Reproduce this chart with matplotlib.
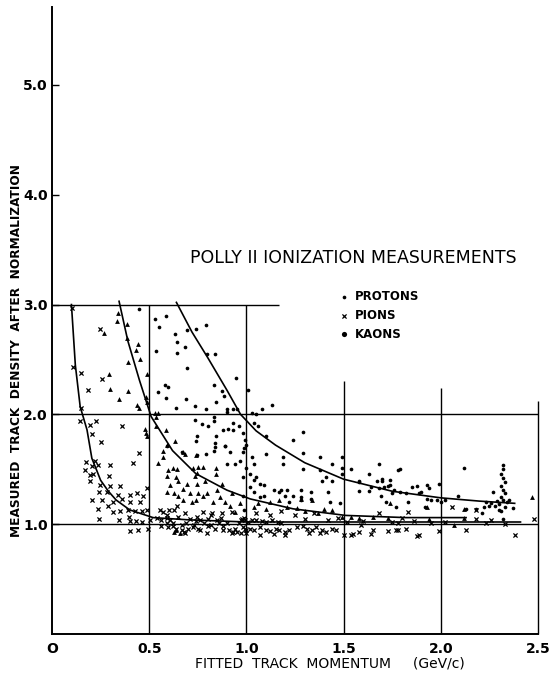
import matplotlib
matplotlib.use("Agg")
import matplotlib.pyplot as plt

# ---- data (momentum GeV/c, normalized track density) ----
proton_x = [0.449, 0.530, 0.586, 0.552, 0.535, 0.633, 0.641, 0.641, 0.684, 0.693, 0.741, 0.792,
            0.796, 0.838, 0.693, 0.581, 0.599, 0.547, 0.586, 0.689, 0.736, 0.638, 0.791, 0.833,
            0.873, 0.886, 0.945, 0.899, 0.930, 0.950, 0.842, 0.835, 0.736, 0.773, 0.804, 0.833,
            0.844, 0.881, 0.907, 0.933, 0.963, 0.930, 0.899, 0.984, 0.993, 1.00, 0.838, 0.890,
            0.984, 1.03, 1.05, 1.08, 1.13, 1.04, 1.06, 1.10, 1.01, 0.744, 0.741, 0.792, 0.835,
            0.590, 0.667, 0.744, 0.838, 0.890, 0.916, 0.899, 0.941, 0.988, 0.984, 0.981, 0.989,
            1.19, 1.19, 1.24, 1.29, 1.29, 1.29, 1.38, 1.38, 1.41, 1.44, 1.44, 1.49, 1.49, 1.49,
            1.54, 1.58, 1.63, 1.68, 1.70, 1.74, 1.74, 1.79, 1.71, 1.76, 1.79, 1.58, 1.63, 1.68,
            1.88, 1.93, 1.94, 1.99, 1.89, 1.93, 1.95, 2.00, 2.02, 1.83, 2.09, 2.12, 2.13, 2.18,
            2.23, 2.27, 2.26, 2.30, 2.37, 0.967, 1.05, 1.07, 1.02, 1.00, 1.10, 1.14, 1.17, 1.21,
            1.28, 1.28, 1.28, 1.33, 1.07, 1.09, 1.39, 1.42, 1.78, 1.67, 1.70, 1.73, 1.58, 1.64,
            1.69, 1.75, 1.85, 1.90, 1.82, 1.98, 1.77, 1.72, 1.92, 1.03, 1.04, 1.02, 1.04, 1.04,
            1.09, 1.18, 1.20, 1.24, 1.33, 1.43, 1.48, 1.22,
            2.32, 2.32, 2.31, 2.32, 2.33, 2.31, 2.32, 2.33, 2.31, 2.32, 2.34, 2.30, 2.33, 2.31,
            2.32, 2.35, 2.29, 2.28, 2.25, 2.22, 2.21]
proton_y = [2.96, 2.87, 2.90, 2.80, 2.58, 2.73, 2.66, 2.56, 2.61, 2.77, 2.78, 2.81,
            2.55, 2.55, 2.42, 2.27, 2.25, 2.20, 2.15, 2.14, 2.08, 2.06, 2.05, 2.27,
            2.21, 2.17, 2.33, 2.05, 2.05, 2.05, 2.11, 1.98, 1.95, 1.91, 1.89, 1.94,
            1.80, 1.86, 1.87, 1.86, 1.89, 1.92, 2.02, 1.83, 1.77, 1.72, 1.74, 1.71,
            1.66, 2.01, 2.00, 2.05, 2.09, 1.92, 1.89, 1.80, 2.22, 1.80, 1.76, 1.64, 1.67,
            1.71, 1.66, 1.63, 1.70, 1.71, 1.66, 1.55, 1.55, 1.69, 1.43, 1.26, 1.13,
            1.61, 1.55, 1.77, 1.84, 1.65, 1.50, 1.61, 1.49, 1.43, 1.55, 1.39, 1.61, 1.51, 1.46,
            1.50, 1.38, 1.46, 1.55, 1.41, 1.40, 1.36, 1.50, 1.34, 1.31, 1.29, 1.30, 1.30, 1.33,
            1.35, 1.36, 1.33, 1.37, 1.28, 1.23, 1.22, 1.20, 1.22, 1.20, 1.26, 1.51, 1.14, 1.14,
            1.20, 1.29, 1.19, 1.13, 1.15, 1.58, 1.43, 1.37, 1.34, 1.51, 1.64, 1.31, 1.29, 1.31,
            1.31, 1.25, 1.22, 1.29, 1.25, 1.26, 1.39, 1.29, 1.49, 1.39, 1.39, 1.35, 1.39, 1.34,
            1.26, 1.28, 1.34, 1.29, 1.28, 1.22, 1.16, 1.20, 1.16, 1.61, 1.55, 1.46, 1.40, 1.29,
            1.36, 1.31, 1.26, 1.26, 1.23, 1.20, 1.19, 1.20,
            1.54, 1.50, 1.46, 1.42, 1.38, 1.35, 1.31, 1.28, 1.25, 1.22, 1.20, 1.18, 1.16, 1.12,
            1.05, 1.22, 1.21, 1.17, 1.17, 1.16, 1.10]

kaon_x = [0.338, 0.333, 0.387, 0.387, 0.267, 0.444, 0.432, 0.453, 0.392, 0.295, 0.298, 0.392,
          0.345, 0.487, 0.484, 0.487, 0.436, 0.449, 0.530, 0.547, 0.535, 0.478, 0.490, 0.484,
          0.586, 0.535, 0.593, 0.633, 0.569, 0.569, 0.672, 0.741,
          0.547, 0.599, 0.620, 0.641, 0.590, 0.638, 0.650, 0.607, 0.593, 0.628, 0.650, 0.675,
          0.696, 0.710, 0.675, 0.719, 0.741, 0.753, 0.744, 0.736, 0.727, 0.753, 0.775, 0.744,
          0.787, 0.799, 0.778, 0.844, 0.844, 0.873, 0.847, 0.864, 0.890, 0.830, 0.924, 0.967,
          0.941, 0.916, 0.684,
          1.04, 1.12, 1.17, 1.28, 1.34, 1.40, 1.44, 1.49, 1.54, 1.58, 1.65, 1.73, 1.74, 1.94,
          1.93, 2.07, 2.12, 2.12, 2.47, 1.37, 1.30, 1.26, 1.21, 1.10, 1.06, 0.63, 0.66, 0.64]
kaon_y = [2.92, 2.85, 2.82, 2.70, 2.74, 2.64, 2.59, 2.50, 2.48, 2.37, 2.23, 2.21,
          2.14, 2.37, 2.16, 2.11, 2.09, 2.06, 2.01, 2.01, 1.98, 1.87, 1.80, 1.83,
          1.86, 1.89, 1.72, 1.76, 1.67, 1.61, 1.66, 1.63,
          1.56, 1.49, 1.51, 1.50, 1.44, 1.43, 1.39, 1.36, 1.29, 1.28, 1.26, 1.32,
          1.37, 1.28, 1.22, 1.20, 1.22, 1.28, 1.37, 1.44, 1.51, 1.52, 1.52, 1.47,
          1.39, 1.28, 1.26, 1.51, 1.46, 1.37, 1.31, 1.25, 1.20, 1.20, 1.28, 1.19,
          1.11, 1.17, 1.64,
          1.16, 1.20, 1.22, 1.23, 1.22, 1.14, 1.13, 1.07, 1.07, 1.06, 1.07, 1.06, 1.19, 1.05,
          1.16, 0.99, 1.06, 1.14, 1.25, 1.10, 1.12, 1.15, 1.16, 1.14, 1.19, 0.93, 0.92, 0.95]

pion_x = [0.101, 0.110, 0.149, 0.247, 0.256, 0.187, 0.148, 0.144, 0.195, 0.226, 0.204, 0.250,
          0.358, 0.448, 0.175, 0.170, 0.195, 0.204, 0.221, 0.204, 0.243, 0.238, 0.243,
          0.418, 0.212, 0.238, 0.298, 0.295, 0.195, 0.247, 0.298, 0.350, 0.281, 0.341, 0.401,
          0.439, 0.470, 0.490, 0.256, 0.315, 0.358, 0.401, 0.453, 0.290, 0.312, 0.350, 0.393,
          0.427, 0.461, 0.487, 0.346, 0.398, 0.401, 0.432, 0.461, 0.504, 0.401, 0.444, 0.492,
          0.556, 0.573, 0.602, 0.628, 0.641, 0.593, 0.607, 0.650, 0.684, 0.710, 0.744, 0.778,
          0.821, 0.873, 0.924, 0.599, 0.684, 0.727, 0.761, 0.796, 0.838, 0.881, 0.924, 0.950,
          0.993,
          0.54, 0.56, 0.59, 0.62, 0.64, 0.67, 0.68, 0.70, 0.73, 0.75, 0.78, 0.80, 0.82, 0.86,
          0.88, 0.91, 0.93, 0.96, 0.97, 0.99, 1.00, 0.97, 0.94, 0.90, 0.87, 0.85, 0.82, 0.80,
          0.76, 0.74, 0.69, 0.67, 0.62, 0.59, 0.56,
          0.976, 0.993, 1.01, 1.03, 1.05, 1.08, 1.10, 1.13, 1.16, 1.18, 0.984, 1.02, 1.04, 1.07,
          1.10, 1.12, 1.15, 1.17, 1.20, 1.22, 1.26, 1.29, 1.31, 1.34, 1.36, 1.39, 1.41, 1.44,
          1.46, 1.00, 1.07, 1.14, 1.20, 1.32, 1.38, 1.50, 1.54, 1.58, 1.64, 1.73, 1.78, 1.89,
          1.65, 1.77, 1.82, 1.88, 1.99, 2.13, 2.23, 2.33, 2.18, 1.55, 1.59, 1.78, 1.83, 2.06,
          2.18, 2.26, 2.38, 2.48,
          1.05, 1.12, 1.18, 1.25, 1.30, 1.35, 1.42, 1.47, 1.52, 1.60, 1.68, 1.75, 1.80, 1.86,
          1.95, 2.02]
pion_y = [2.97, 2.43, 2.38, 2.78, 2.32, 2.22, 2.06, 1.94, 1.90, 1.94, 1.82, 1.75,
          1.89, 1.65, 1.57, 1.49, 1.45, 1.53, 1.58, 1.22, 1.29, 1.14, 1.05,
          1.56, 1.46, 1.54, 1.54, 1.44, 1.39, 1.36, 1.35, 1.35, 1.29, 1.27, 1.27,
          1.28, 1.26, 1.33, 1.22, 1.20, 1.23, 1.20, 1.20, 1.17, 1.11, 1.12, 1.13,
          1.12, 1.12, 1.13, 1.04, 1.07, 1.03, 1.03, 1.02, 1.04, 0.94, 0.95, 0.96,
          1.13, 1.11, 1.13, 1.13, 1.17, 1.08, 1.04, 1.07, 1.10, 1.05, 1.07, 1.11,
          1.10, 1.10, 1.11, 0.97, 0.92, 0.97, 0.95, 0.92, 0.96, 0.95, 0.92, 0.93,
          0.96,
          1.06, 1.04, 1.06, 1.01, 0.96, 0.95, 0.93, 0.96, 0.99, 0.96, 1.01, 0.98, 0.99, 1.01,
          0.98, 0.95, 0.93, 1.01, 1.04, 1.06, 0.95, 0.92, 0.96, 1.01, 1.06, 1.04, 1.08, 1.05,
          1.04, 1.03, 1.01, 0.99, 0.98, 1.01, 0.98,
          1.05, 1.04, 1.02, 1.04, 1.04, 1.03, 1.02, 1.04, 1.02, 1.01, 0.97, 0.96, 0.95, 0.97,
          0.95, 0.94, 0.96, 0.95, 0.93, 0.95, 0.97, 0.98, 0.96, 0.95, 0.97, 0.95, 0.93, 0.96,
          0.95, 0.92, 0.90, 0.91, 0.90, 0.92, 0.92, 0.90, 0.90, 0.93, 0.91, 0.94, 0.95, 0.90,
          0.95, 0.95, 0.96, 0.89, 0.94, 0.95, 1.01, 1.00, 1.05, 0.91, 0.99, 1.01, 1.11, 1.16,
          1.13, 1.04, 0.90, 1.05,
          1.10, 1.08, 1.12, 1.08, 1.05, 1.10, 1.04, 1.06, 1.02, 1.03, 1.10, 1.02, 1.06, 1.03,
          1.01, 1.02]

# hand drawn expectation curves
pion_curve_x = [0.10, 0.12, 0.145, 0.16, 0.18, 0.205, 0.23, 0.25, 0.29, 0.33, 0.40, 0.52, 0.70, 1.00, 1.50, 2.00, 2.41]
pion_curve_y = [3.00, 2.45, 2.07, 1.98, 1.86, 1.60, 1.49, 1.40, 1.30, 1.22, 1.13, 1.06, 1.04, 1.02, 1.02, 1.02, 1.02]
kaon_curve_x = [0.345, 0.39, 0.45, 0.51, 0.62, 0.74, 0.90, 1.02, 1.24, 1.51, 1.82, 2.13]
kaon_curve_y = [3.03, 2.67, 2.31, 1.98, 1.67, 1.46, 1.31, 1.23, 1.14, 1.08, 1.06, 1.06]
proton_curve_x = [0.64, 0.72, 0.80, 0.90, 0.97, 1.05, 1.15, 1.30, 1.50, 1.75, 2.00, 2.20, 2.38]
proton_curve_y = [3.02, 2.75, 2.52, 2.22, 2.00, 1.85, 1.72, 1.56, 1.41, 1.30, 1.24, 1.21, 1.19]

x_ticks = [0, 0.5, 1.0, 1.5, 2.0, 2.5]
x_tick_labels = ["O", "0.5", "1.0", "1.5", "2.0", "2.5"]
y_ticks = [1.0, 2.0, 3.0, 4.0, 5.0]
y_tick_labels = ["1.0", "2.0", "3.0", "4.0", "5.0"]

legend_names = ["PROTONS", "PIONS", "KAONS"]

fig = plt.figure(figsize=(5.49, 6.74), dpi=100)
ax = fig.add_axes([52 / 549, 40 / 674, 486 / 549, 627 / 674])

ax.set_xlim(0, 2.5)
ax.set_ylim(0, 5.71)

for side in ["top", "right"]:
    ax.spines[side].set_visible(False)
for side in ["left", "bottom"]:
    ax.spines[side].set_linewidth(1.4)

# partial grid, as drawn on the original
ink = "black"
ax.hlines(3.0, 0, 1.17, color=ink, lw=1.0)
ax.hlines([1.0, 2.0], 0, 2.5, color=ink, lw=1.0)
ax.vlines([0.5, 1.0], 0, 3.0, color=ink, lw=1.0)
ax.vlines(1.5, 0, 2.30, color=ink, lw=1.0)
ax.vlines(2.0, 0, 2.24, color=ink, lw=1.0)
ax.vlines(2.5, 0, 2.12, color=ink, lw=1.0, clip_on=False)

# curves
ax.plot(pion_curve_x, pion_curve_y, color=ink, lw=1.2)
ax.plot(kaon_curve_x, kaon_curve_y, color=ink, lw=1.2)
ax.plot(proton_curve_x, proton_curve_y, color=ink, lw=1.2)

# points
ax.scatter(proton_x, proton_y, s=7, color=ink, marker="o", linewidths=0, clip_on=False)
ax.scatter(pion_x, pion_y, s=9, color=ink, marker="x", linewidths=0.9, clip_on=False)
ax.scatter(kaon_x, kaon_y, s=12, color=ink, marker="^", linewidths=0, clip_on=False)

ax.set_xticks(x_ticks)
ax.set_xticklabels(x_tick_labels, fontsize=10, fontweight="bold")
ax.set_yticks(y_ticks)
ax.set_yticklabels(y_tick_labels, fontsize=10, fontweight="bold")
ax.tick_params(axis="x", length=0, pad=6)
ax.tick_params(axis="y", direction="in", length=5, width=1, pad=3)

ax.set_xlabel("FITTED  TRACK  MOMENTUM     (GeV/c)", fontsize=10, labelpad=3)
ax.xaxis.set_label_coords(0.572, -0.036)
ax.set_ylabel("MEASURED  TRACK  DENSITY  AFTER  NORMALIZATION", fontsize=8.7,
              fontweight="bold")
ax.yaxis.set_label_coords(-0.06, 0.452)

ax.text(0.71, 3.42, "POLLY II IONIZATION MEASUREMENTS", fontsize=12.5, va="center", ha="left")

legend_y = [3.07, 2.90, 2.73]
legend_marker = ["o", "x", "o"]
legend_size = [7, 9, 14]
for name, ly, mk, ms in zip(legend_names, legend_y, legend_marker, legend_size):
    ax.scatter([1.50], [ly], s=ms, color=ink, marker=mk, linewidths=0.9 if mk == "x" else 0)
    ax.text(1.56, ly, name, fontsize=8.5, fontweight="bold", va="center", ha="left")

fig.savefig("out.png", dpi=100)
